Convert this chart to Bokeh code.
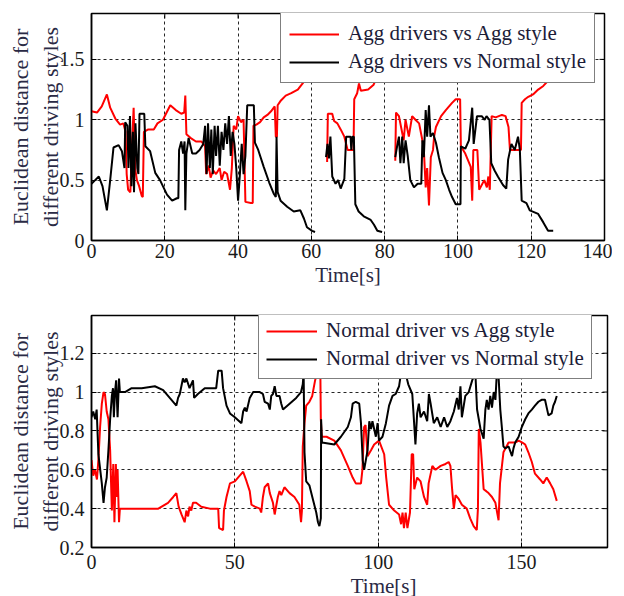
import numpy as np
from bokeh.plotting import figure
from bokeh.layouts import column
from bokeh.models import (FixedTicker, NumeralTickFormatter, Legend, LegendItem, Range1d)
from bokeh.embed import file_html
from bokeh.resources import INLINE

nan = float("nan")

# ---------------- data: top panel (aggressive drivers) ----------------
top_t = [0.0, 1.5, 2.8, 4.2, 5.1, 6.5, 7.8, 8.7, 9.3, 9.6, 10.0, 10.6, 11.0, 11.5, 11.9, 12.4, 13.0, 13.7, 14.0,
         14.3, 15.5, 17.0, 18.0, 19.5, 21.5, 23.0, 24.5, 25.3, 25.6, 25.9, 27.0, 28.5, 30.0, 31.0, 31.3, 32.0,
         32.5, 33.2, 34.0, 35.0, 35.5, 36.2, 37.0, 37.8, 38.3, 38.8, 39.5, 40.0, 40.8, 41.5, 42.0, 43.5, 44.0,
         44.2, 45.0, 46.0, 47.0, 48.0, 49.0, 50.0, 50.3, 50.6, 50.8, 51.7, 53.0, 54.5, 56.3, 58.1, 59.5, 61.0,
         nan,
         64.3, 64.5, 65.7, 66.2, 67.1, 68.0, 69.0, 69.9, 71.0, 71.5, 71.7, 72.5, 73.0, 73.5, 75.5, 77.0, 78.5, 80.0,
         nan,
         82.9, 83.1, 83.9, 84.8, 85.2, 85.7, 86.6, 87.5, 88.4, 89.4, 90.3, 90.7, 91.2, 91.6, 92.1, 92.6, 93.2,
         93.5, 94.0, 95.4, 96.7, 98.4, 99.4, 100.6, 100.8, 102.0, 103.5, 103.9, 104.2, 105.3, 105.8, 107.2,
         107.9, 108.3, 108.7, 109.2, 110.3, 112.0, 113.0, 113.8, 114.2, 116.8, 117.2, 117.4, 118.3, 119.2,
         120.5, 121.9, 123.3, 124.2, 125.5, 126.5]
agg_vs_agg = [1.07, 1.06, 1.11, 1.21, 1.10, 1.01, 0.96, 0.97, 0.90, 0.55, 0.42, 0.40, 0.75, 1.10, 0.60, 0.50, 0.45,
              0.37, 0.36, 0.90, 0.92, 0.92, 0.97, 1.00, 1.12, 1.08, 1.05, 1.06, 1.20, 0.88, 0.85, 0.82, 0.82, 0.78,
              0.55, 0.62, 0.52, 0.58, 0.55, 0.60, 0.50, 0.57, 0.55, 0.42, 0.60, 0.95, 0.92, 1.03, 0.98, 1.00, 0.32,
              0.31, 0.31, 0.95, 0.96, 0.98, 1.02, 1.04, 1.07, 1.11, 0.86, 0.86, 1.12, 1.16, 1.20, 1.22, 1.25, 1.32,
              1.38, 1.45,
              nan,
              0.65, 1.05, 1.05, 0.99, 0.97, 0.92, 0.86, 0.75, 0.75, 0.75, 1.17, 1.22, 1.30, 1.24, 1.25, 1.29, 1.40,
              1.48,
              nan,
              0.66, 1.06, 1.03, 0.89, 0.83, 1.00, 0.86, 1.03, 1.00, 0.97, 0.83, 0.75, 0.44, 0.60, 0.29, 0.69, 0.75,
              0.86, 0.94, 1.03, 1.08, 1.14, 1.17, 1.17, 0.78, 0.72, 0.61, 0.33, 0.75, 0.75, 0.42, 0.50, 0.44, 0.53,
              0.42, 1.03, 1.02, 1.04, 1.03, 0.94, 0.75, 0.75, 0.75, 1.14, 1.17, 1.19, 1.21, 1.25, 1.28, 1.31, 1.40,
              1.48]

top_t2 = [0.0, 1.0, 2.0, 3.0, 4.2, 5.1, 6.0, 7.4, 8.3, 9.0, 9.2, 9.8, 10.1, 10.5, 10.9, 11.3, 11.6, 12.0, 12.5,
          12.8, 13.1, 14.4, 14.7, 16.0, 17.4, 18.7, 20.6, 22.0, 23.3, 23.7, 23.9, 24.5, 25.0, 25.4, 25.6, 25.9,
          26.5, 27.5, 28.5, 29.5, 30.5, 31.0, 31.4, 31.8, 32.3, 32.7, 33.1, 33.6, 34.0, 34.5, 35.0, 35.5, 36.0,
          36.5, 37.0, 37.5, 38.0, 38.5, 39.0, 39.5, 40.0, 40.5, 41.0, 41.5, 42.0, 42.5, 43.0, 44.3, 44.6, 45.5,
          47.0, 48.5, 49.7, 50.3, 50.5, 50.8, 51.6, 53.4, 55.2, 57.0, 58.0, 58.8, 60.2, 61.0,
          nan,
          64.0, 64.4, 64.8, 65.2, 65.7, 66.6, 67.3, 68.0, 69.0, 69.5, 70.7, 70.9, 71.2, 71.6, 72.0, 72.9, 74.3,
          76.2, 77.1, 78.0, 79.3,
          nan,
          82.9, 83.4, 83.9, 84.3, 84.8, 85.2, 85.7, 86.3, 87.0, 88.0, 89.0, 90.0, 90.3, 90.7, 91.2, 91.6, 92.1,
          92.5, 93.2, 94.0, 94.8, 95.8, 96.7, 97.6, 98.4, 99.4, 100.7, 100.8, 102.0, 103.0, 103.9, 104.3, 105.2,
          106.5, 107.3, 107.8, 108.6, 109.1, 110.0, 110.9, 112.3, 113.2, 113.7, 114.6, 115.5, 116.4, 116.9,
          117.4, 118.7, 119.6, 121.9, 123.3, 124.6, 126.0]
agg_vs_normal = [0.47, 0.50, 0.53, 0.45, 0.25, 0.50, 0.77, 0.79, 0.74, 0.60, 0.98, 0.95, 0.60, 1.03, 0.45, 0.90,
                 0.40, 0.97, 0.60, 0.55, 1.05, 1.05, 0.78, 0.74, 0.56, 0.50, 0.38, 0.33, 0.35, 0.35, 0.75, 0.82,
                 0.72, 0.82, 0.25, 0.72, 0.85, 0.72, 0.72, 0.75, 0.80, 0.95, 0.55, 0.97, 0.60, 0.92, 0.55, 0.95,
                 0.70, 0.95, 0.62, 0.90, 0.75, 0.97, 0.80, 1.03, 0.70, 0.90, 0.80, 0.60, 0.33, 0.55, 0.80, 0.55,
                 0.70, 1.12, 1.12, 1.12, 0.81, 0.75, 0.61, 0.48, 0.39, 0.36, 0.86, 0.40, 0.33, 0.28, 0.24, 0.25,
                 0.18, 0.11, 0.08, 0.07,
                 nan,
                 0.69, 0.80, 0.68, 0.86, 0.53, 0.47, 0.50, 0.43, 0.51, 0.86, 0.86, 0.75, 0.86, 0.86, 0.30, 0.24,
                 0.20, 0.17, 0.13, 0.08, 0.07,
                 nan,
                 0.69, 0.78, 0.86, 0.64, 0.86, 0.64, 0.83, 0.70, 0.50, 0.44, 0.47, 0.47, 0.83, 0.69, 1.08, 0.86,
                 1.12, 0.86, 0.89, 0.81, 0.69, 0.56, 0.50, 0.42, 0.36, 0.30, 0.30, 0.78, 0.76, 0.83, 1.10, 0.80,
                 1.03, 1.03, 1.00, 1.03, 1.00, 0.64, 0.58, 0.53, 0.46, 0.43, 0.67, 0.80, 0.75, 0.86, 0.75, 0.33,
                 0.31, 0.25, 0.22, 0.15, 0.08, 0.08]

# ---------------- data: bottom panel (normal driver) ----------------
bot_t = [0.0, 0.6, 1.2, 1.9, 2.4, 3.0, 3.6, 4.2, 4.7, 5.3, 5.9, 6.5, 7.1, 7.6, 8.0, 8.5, 8.8, 9.1, 9.6, 9.9, 11.7,
         15.2, 19.2, 23.3, 26.7, 28.5, 29.6, 30.4, 31.4, 32.5, 33.1, 33.7, 34.2, 34.8, 35.4, 36.5, 38.3, 41.3,
         44.2, 44.5, 45.9, 46.2, 47.1, 48.3, 50.0, 51.7, 52.9, 54.1, 55.2, 55.8, 57.0, 58.7, 59.2, 59.8, 60.4,
         61.6, 62.2, 63.3, 63.9, 65.0, 65.6, 66.2, 67.3, 69.1, 70.8, 72.5, 73.1, 73.4, 73.7, 74.3, 74.9, 76.0,
         77.0, 78.0, 79.0, 79.8, 80.0, 80.3, 82.0, 84.7, 87.0, 89.4, 91.1, 92.2, 94.0, 94.5, 95.1, 95.6, 96.3,
         97.5, 98.6, 100.3, 102.1, 102.8, 103.8, 105.6, 107.3, 108.0, 108.5, 109.0, 109.6, 110.2, 111.1, 111.7,
         112.2, 112.6, 113.6, 114.8, 116.0, 117.1, 117.6, 118.9, 120.0, 121.8, 123.5, 124.6, 125.2, 125.8,
         126.4, 127.0, 128.1, 129.2, 130.9, 132.1, 133.3, 134.4, 134.8, 135.1, 135.7, 136.8, 137.7, 138.5,
         139.7, 140.9, 141.5, 142.0, 142.5, 143.7, 145.5, 147.8, 149.0, 150.3, 151.3, 152.4, 153.6, 154.7,
         156.5, 157.6, 158.8, 160.0, 161.1, 162.3]
normal_vs_agg = [0.65, 0.57, 0.60, 0.55, 0.65, 0.82, 0.94, 1.00, 0.99, 0.90, 0.86, 0.70, 0.39, 0.63, 0.33, 0.63,
                 0.46, 0.60, 0.33, 0.40, 0.40, 0.40, 0.40, 0.40, 0.43, 0.46, 0.48, 0.41, 0.37, 0.33, 0.39, 0.36,
                 0.41, 0.39, 0.43, 0.43, 0.41, 0.40, 0.40, 0.30, 0.29, 0.39, 0.46, 0.53, 0.54, 0.57, 0.59, 0.54,
                 0.49, 0.42, 0.41, 0.40, 0.38, 0.46, 0.51, 0.53, 0.48, 0.43, 0.37, 0.46, 0.49, 0.47, 0.51, 0.48,
                 0.46, 0.42, 0.33, 0.39, 0.72, 0.84, 0.93, 0.95, 0.98, 1.06, 1.12, 1.15, 0.86, 0.77, 0.77, 0.75,
                 0.70, 0.62, 0.56, 0.53, 0.53, 0.60, 0.82, 0.83, 0.67, 0.70, 0.73, 0.75, 0.68, 0.56, 0.42, 0.39,
                 0.37, 0.32, 0.38, 0.30, 0.38, 0.30, 0.38, 0.68, 0.68, 0.50, 0.56, 0.54, 0.46, 0.42, 0.53, 0.62,
                 0.60, 0.62, 0.63, 0.64, 0.62, 0.50, 0.40, 0.47, 0.45, 0.42, 0.40, 0.35, 0.31, 0.29, 0.40, 0.81,
                 0.74, 0.50, 0.49, 0.48, 0.46, 0.43, 0.38, 0.34, 0.53, 0.69, 0.74, 0.74, 0.75, 0.74, 0.73, 0.69,
                 0.64, 0.58, 0.55, 0.53, 0.56, 0.53, 0.50, 0.44]

bot_t2 = [0.0, 0.6, 1.3, 1.8, 2.4, 3.6, 4.2, 4.7, 5.3, 5.9, 6.5, 7.1, 7.5, 7.8, 8.2, 8.6, 9.1, 9.6, 9.9, 11.7, 14.0,
          17.5, 22.1, 25.0, 27.3, 29.6, 30.2, 30.8, 31.9, 32.5, 33.1, 34.2, 35.4, 35.8, 37.1, 39.5, 41.3, 43.5,
          44.2, 45.4, 45.9, 47.1, 48.3, 50.0, 52.3, 52.9, 53.5, 54.1, 55.2, 56.4, 57.5, 58.7, 59.8, 60.4, 61.6,
          62.2, 62.7, 63.3, 63.9, 64.5, 65.6, 66.2, 66.8, 69.1, 71.4, 73.1, 73.7, 74.0, 74.3, 74.9, 76.0, 77.2,
          78.4, 79.0, 79.5, 80.0, 80.1, 80.4, 84.7, 87.0, 89.4, 90.5, 91.1, 92.2, 93.4, 94.0, 94.6, 95.1, 95.7,
          96.3, 96.9, 97.5, 98.0, 99.2, 99.8, 100.3, 101.5, 102.7, 103.8, 105.0, 106.1, 107.3, 108.0, 109.5,
          110.5, 111.9, 112.5, 113.0, 113.6, 114.2, 114.8, 116.0, 117.1, 117.7, 118.3, 119.4, 120.6, 121.8,
          123.0, 124.1, 125.2, 126.4, 127.5, 128.1, 128.7, 129.2, 130.4, 131.6, 132.8, 133.9, 134.5, 135.1,
          135.7, 136.8, 137.4, 137.9, 138.5, 139.1, 139.7, 140.3, 140.9, 141.4, 142.0, 142.6, 143.2, 143.7,
          144.3, 145.5, 146.7, 147.2, 147.8, 149.0, 150.1, 151.3, 152.4, 153.6, 154.7, 155.9, 157.0, 158.2,
          158.8, 159.4, 160.5, 161.1, 161.7, 162.3]
normal_vs_normal = [0.87, 0.90, 0.86, 0.91, 0.68, 0.53, 0.43, 0.51, 0.56, 0.70, 0.86, 0.98, 1.02, 0.87, 1.00,
                    1.06, 0.87, 1.07, 1.00, 1.00, 1.02, 1.02, 1.03, 1.01, 0.97, 0.93, 0.97, 0.99, 1.07, 1.05,
                    1.07, 1.02, 1.06, 0.97, 0.99, 1.02, 1.02, 1.02, 1.11, 1.11, 1.02, 0.93, 0.89, 0.87, 0.84,
                    0.90, 0.92, 0.90, 0.97, 1.00, 1.00, 1.00, 0.99, 0.95, 0.94, 0.91, 0.98, 0.99, 1.03, 0.98,
                    0.98, 0.94, 0.91, 0.94, 0.97, 1.00, 1.04, 1.10, 0.69, 0.54, 0.52, 0.45, 0.38, 0.33, 0.31,
                    0.35, 0.86, 0.74, 0.73, 0.77, 0.82, 0.87, 0.94, 0.95, 0.94, 0.84, 0.65, 0.60, 0.65, 0.70,
                    0.85, 0.81, 0.85, 0.77, 0.84, 0.75, 0.77, 0.84, 0.93, 0.98, 0.99, 1.03, 1.10, 1.10, 1.04,
                    0.99, 0.85, 0.73, 0.89, 0.94, 0.87, 0.90, 0.85, 0.99, 0.94, 0.84, 0.87, 0.82, 0.87, 0.82,
                    0.85, 0.90, 0.97, 0.91, 1.03, 0.87, 0.98, 1.00, 1.06, 1.10, 0.91, 0.86, 0.81, 0.76, 0.91,
                    0.96, 0.91, 0.98, 0.92, 1.00, 0.96, 1.10, 1.08, 0.91, 0.81, 0.72, 0.71, 0.72, 0.67, 0.71,
                    0.74, 0.77, 0.82, 0.86, 0.89, 0.91, 0.93, 0.95, 0.96, 0.96, 0.92, 0.88, 0.89, 0.93, 0.95,
                    0.98]

# ticks
top_xticks = [0, 20, 40, 60, 80, 100, 120, 140]
top_yticks = [0, 0.5, 1, 1.5]
bot_xticks = [0, 50, 100, 150]
bot_yticks = [0.2, 0.4, 0.6, 0.8, 1.0, 1.2]

top_labels = ["Agg drivers vs Agg style", "Agg drivers vs Normal style"]
bot_labels = ["Normal driver vs Agg style", "Normal driver vs Normal style"]
ylabel = "Euclidean distance for\ndifferent driving styles"
xlabel = "Time[s]"

FONT = "Liberation Serif"
RED = "#ff0000"
BLACK = "#000000"


def make_panel(xs1, ys1, xs2, ys2, xr, yr, xt, yt, labels, fw, fh, top_border, bottom_border,
               leg_loc, leg_pad, glyph_w, leg_font, x_std, x_label):
    p = figure(frame_width=fw, frame_height=fh, x_range=Range1d(*xr), y_range=Range1d(*yr),
               output_backend="svg", toolbar_location=None,
               min_border_left=91, min_border_right=8, min_border_top=top_border,
               min_border_bottom=bottom_border, background_fill_color="white",
               border_fill_color="white")
    p.outline_line_color = "black"
    p.outline_line_width = 1.5
    p.outline_line_alpha = 1.0

    p.xgrid.ticker = FixedTicker(ticks=xt)
    p.ygrid.ticker = FixedTicker(ticks=yt)
    for g in (p.xgrid, p.ygrid):
        g.grid_line_color = "black"
        g.grid_line_dash = "3 3"
        g.grid_line_width = 1
        g.grid_line_alpha = 0.85

    r1 = p.line(xs1, ys1, line_color=RED, line_width=2)
    r2 = p.line(xs2, ys2, line_color=BLACK, line_width=2)

    # mirrored tick marks on the top and right frame edges (MATLAB "box on");
    # markers centred on the edge, the outer half is clipped by the frame
    p.scatter(xt, [yr[1]] * len(xt), marker="dash", angle=np.pi / 2, size=10,
              line_color="black", line_width=1)
    p.scatter([xr[1]] * len(yt), yt, marker="dash", size=10,
              line_color="black", line_width=1)

    xa = p.xaxis[0]
    ya = p.yaxis[0]
    xa.ticker = FixedTicker(ticks=xt)
    ya.ticker = FixedTicker(ticks=yt)
    ya.formatter = NumeralTickFormatter(format="0.[0]")
    xa.formatter = NumeralTickFormatter(format="0")
    for ax in (xa, ya):
        ax.major_tick_in = 5
        ax.major_tick_out = 0
        ax.minor_tick_line_color = None
        ax.axis_line_color = "black"
        ax.axis_line_width = 1.5
        ax.major_tick_line_color = "black"
        ax.major_label_text_font = FONT
        ax.major_label_text_font_size = "20px"
        ax.major_label_text_color = "#1a1a1a"
        ax.axis_label_text_font = FONT
        ax.axis_label_text_font_style = "normal"
        ax.axis_label_text_color = "#2a2a44"
    xa.major_label_standoff = x_std
    xa.axis_label_standoff = 2
    xa.axis_label_text_font_size = "21px"
    xa.axis_label = x_label
    ya.axis_label = ylabel
    ya.axis_label_text_font_size = "22px"
    ya.major_label_standoff = 7
    ya.axis_label_standoff = -6

    legend = Legend(items=[LegendItem(label=labels[0], renderers=[r1]),
                           LegendItem(label=labels[1], renderers=[r2])],
                    location=leg_loc)
    legend.label_text_font = FONT
    legend.label_text_font_size = leg_font
    legend.label_text_color = "#1c1c38"
    legend.glyph_width = glyph_w
    legend.glyph_height = 22
    legend.label_height = 22
    legend.label_standoff = 9
    legend.padding = leg_pad
    legend.spacing = 3
    legend.margin = 0
    legend.border_line_color = "black"
    legend.border_line_width = 1
    legend.background_fill_color = "white"
    legend.background_fill_alpha = 1.0
    p.add_layout(legend)
    return p


# in the lower panel the x label sits right of centre, as in the source figure
NBSP = "\u00a0"
p_top = make_panel(top_t, agg_vs_agg, top_t2, agg_vs_normal, (0, 140), (0, 1.88),
                   top_xticks, top_yticks, top_labels, 513, 227, 13, 60,
                   (189, 157), 8, 50, "21px", 3, xlabel)
p_bot = make_panel(bot_t, normal_vs_agg, bot_t2, normal_vs_normal, (0, 180), (0.2, 1.394),
                   bot_xticks, bot_yticks, bot_labels, 516, 232, 15, 49,
                   (167, 168), 7, 51, "21px", 7, NBSP * 13 + xlabel)

layout = column(p_top, p_bot, spacing=0)
open("out.html", "w").write(file_html(layout, INLINE))
